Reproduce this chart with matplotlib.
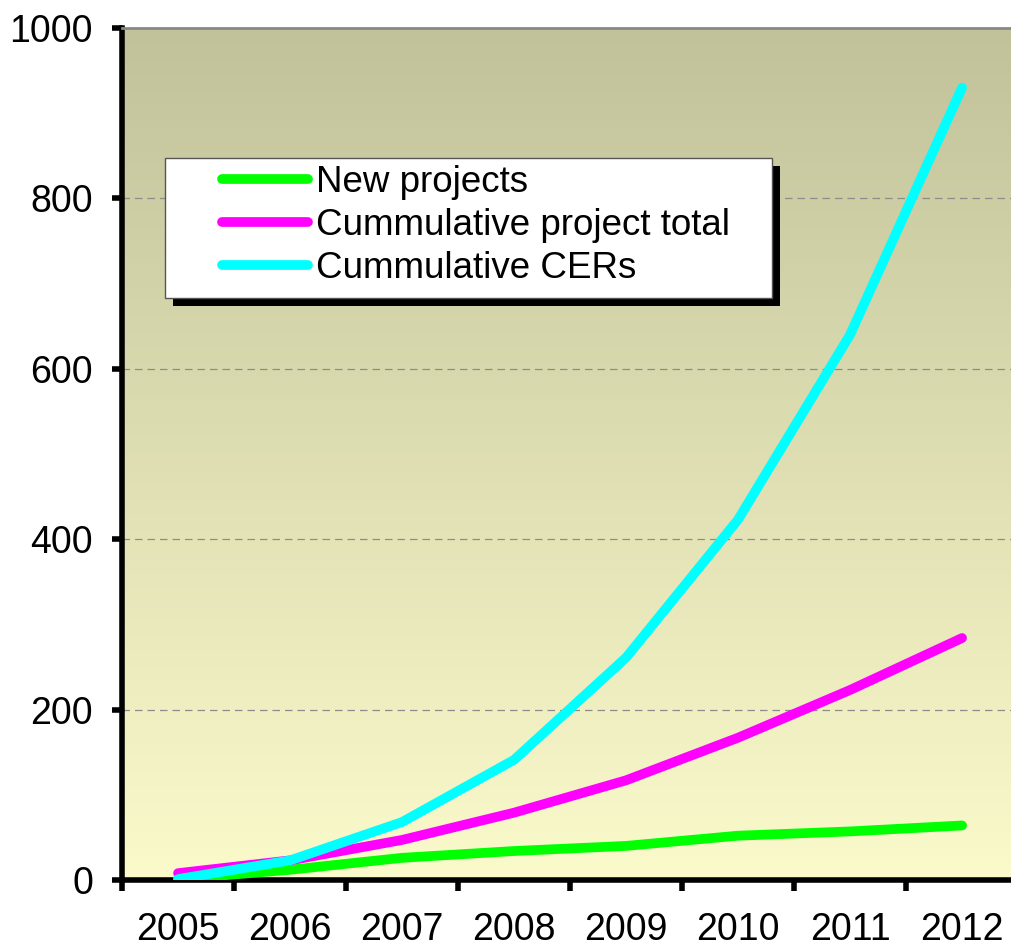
import numpy as np
import matplotlib.pyplot as plt
from matplotlib.colors import LinearSegmentedColormap
from matplotlib.patches import Rectangle

plt.rcParams['font.family'] = ['Liberation Sans', 'DejaVu Sans']

years = ["2005", "2006", "2007", "2008", "2009", "2010", "2011", "2012"]
new_projects = [1, 12, 26, 34, 40, 52, 57, 64]
cum_projects = [8, 23, 47, 79, 117, 167, 223, 284]
cum_cers = [1, 23, 68, 141, 261, 423, 640, 930]

series = [
    ("New projects", new_projects, "#00ff00"),
    ("Cummulative project total", cum_projects, "#ff00ff"),
    ("Cummulative CERs", cum_cers, "#00ffff"),
]

W, H = 1012, 950
fig = plt.figure(figsize=(W / 100, H / 100), dpi=100)
ax = fig.add_axes([0.1206, 0.0737, 0.8854, 0.8968])

n = len(years)
x = np.arange(n) + 0.5
ax.set_xlim(0, n)
ax.set_ylim(0, 1000)

# gradient background
grad = LinearSegmentedColormap.from_list("bg", ["#fbfacb", "#c1c29a"])
ax.imshow(np.linspace(0, 1, 256).reshape(-1, 1), cmap=grad, origin="lower",
          extent=[0, n, 0, 1000], aspect="auto", zorder=0)

for yv in [200, 400, 600, 800]:
    ax.axhline(yv, color="#8c8c8c", lw=0.9, ls=(0, (6, 4)), zorder=1)

handles = []
for label, vals, col in series:
    h, = ax.plot(x, vals, color=col, lw=7, solid_capstyle="round",
                 solid_joinstyle="round", label=label, zorder=3)
    handles.append(h)

# axes styling
for side in ["left", "bottom"]:
    ax.spines[side].set_linewidth(4)
    ax.spines[side].set_color("black")
ax.spines["right"].set_visible(False)
ax.spines["top"].set_color("#888888")
ax.spines["top"].set_linewidth(2)

ax.set_yticks([0, 200, 400, 600, 800, 1000])
ax.tick_params(axis="y", direction="out", length=7, width=4, labelsize=27, pad=14)
ax.set_xticks(np.arange(n + 1))
ax.set_xticklabels([])
ax.set_xticks(x, minor=True)
ax.set_xticklabels(years, minor=True)
ax.tick_params(axis="x", which="major", direction="out", length=8, width=4)
ax.tick_params(axis="x", which="minor", length=0, labelsize=27, pad=23)

# legend: entries without frame, box + shadow drawn by hand (wide left margin)
leg = ax.legend(handles=handles, loc="upper left",
                bbox_to_anchor=(222 / W, 1 - 165 / H),
                bbox_transform=fig.transFigure, fontsize=26.5,
                frameon=False, handlelength=2.35, handletextpad=0.2,
                labelspacing=0.22, borderpad=0, borderaxespad=0)
leg.set_zorder(6)

box_l, box_r, box_t, box_b = 165, 772, 158, 298
ax.add_patch(Rectangle((box_l / W + 0.008, 1 - box_b / H - 0.008),
                       (box_r - box_l) / W, (box_b - box_t) / H,
                       transform=fig.transFigure, facecolor="black",
                       edgecolor="none", zorder=4, clip_on=False))
ax.add_patch(Rectangle((box_l / W, 1 - box_b / H),
                       (box_r - box_l) / W, (box_b - box_t) / H,
                       transform=fig.transFigure, facecolor="white",
                       edgecolor="#555555", lw=1, zorder=5, clip_on=False))

fig.savefig("out.png", dpi=100)
